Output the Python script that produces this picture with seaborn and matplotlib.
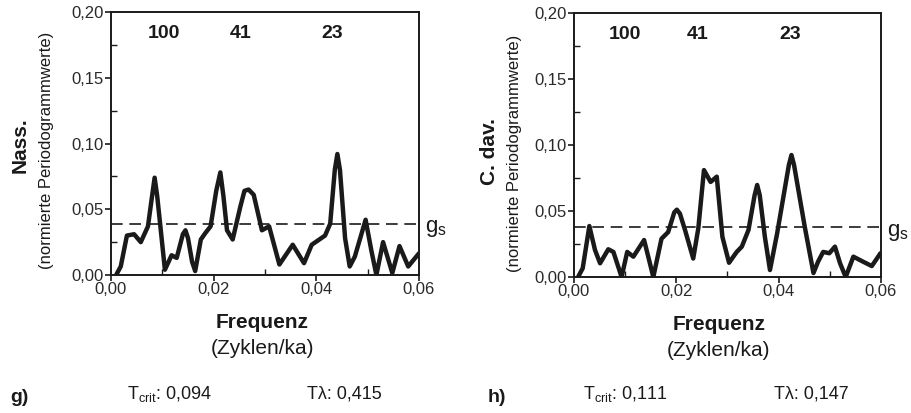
import matplotlib
matplotlib.use("Agg")
import matplotlib.pyplot as plt
import seaborn as sns
import pandas as pd
from matplotlib.ticker import FixedLocator, FuncFormatter, MultipleLocator

# ---------------- data ----------------
freq_nass = [0.0010, 0.0019, 0.0031, 0.0045, 0.0058, 0.0072, 0.0080, 0.0085, 0.0090,
             0.0097, 0.0105, 0.0118, 0.0128, 0.0140, 0.0145, 0.0150, 0.0158, 0.0164,
             0.0175, 0.0184, 0.0194, 0.0205, 0.0213, 0.0219, 0.0226, 0.0237, 0.0252,
             0.0260, 0.0268, 0.0278, 0.0294, 0.0308, 0.0328, 0.0354, 0.0376, 0.0391,
             0.0417, 0.0427, 0.0436, 0.0441, 0.0446, 0.0456, 0.0465, 0.0475, 0.0496,
             0.0507, 0.0517, 0.0530, 0.0548, 0.0562, 0.0579, 0.0600]
val_nass = [0.000, 0.0065, 0.030, 0.031, 0.025, 0.037, 0.060, 0.074, 0.060,
            0.034, 0.004, 0.015, 0.013, 0.031, 0.034, 0.028, 0.010, 0.003,
            0.027, 0.032, 0.037, 0.064, 0.078, 0.060, 0.034, 0.027, 0.052,
            0.064, 0.065, 0.061, 0.034, 0.037, 0.008, 0.023, 0.009, 0.023,
            0.030, 0.039, 0.080, 0.092, 0.080, 0.028, 0.0065, 0.014, 0.042,
            0.019, 0.000, 0.025, 0.0015, 0.022, 0.0065, 0.0165]

freq_cdav = [0.0008, 0.0017, 0.0030, 0.0041, 0.0051, 0.0067, 0.0077, 0.0093, 0.0104,
             0.0116, 0.0137, 0.0155, 0.0171, 0.0184, 0.0196, 0.0201, 0.0207, 0.0217,
             0.0233, 0.0243, 0.0254, 0.0267, 0.0279, 0.0290, 0.0303, 0.0318, 0.0328,
             0.0341, 0.0353, 0.0358, 0.0363, 0.0373, 0.0383, 0.0397, 0.0420, 0.0425,
             0.0430, 0.0451, 0.0468, 0.0477, 0.0487, 0.0499, 0.0510, 0.0520, 0.0531,
             0.0546, 0.0565, 0.0582, 0.0599]
val_cdav = [0.000, 0.0066, 0.0386, 0.0205, 0.0104, 0.021, 0.019, 0.000, 0.019,
            0.0154, 0.028, 0.000, 0.029, 0.034, 0.049, 0.051, 0.048, 0.0356,
            0.014, 0.037, 0.081, 0.072, 0.076, 0.0305, 0.0108, 0.019, 0.023,
            0.0356, 0.062, 0.0697, 0.062, 0.0305, 0.0053, 0.033, 0.085, 0.0924,
            0.085, 0.038, 0.003, 0.0116, 0.019, 0.018, 0.023, 0.0104, 0.000,
            0.0154, 0.0116, 0.0083, 0.018]

gs_levels = [0.039, 0.038]
species = ["Nass.", "C. dav."]
panel_tags = ["g)", "h)"]
tcrit_vals = ["0,094", "0,111"]
tlambda_vals = ["0,415", "0,147"]
period_labels = ["100", "41", "23"]
period_x = [[0.0103, 0.0252, 0.0431], [0.0100, 0.0242, 0.0422]]
xticks = [0.00, 0.02, 0.04, 0.06]
yticks = [0.00, 0.05, 0.10, 0.15, 0.20]

# ---------------- style ----------------
sns.set_style("ticks")
plt.rcParams["font.family"] = ["Liberation Sans", "DejaVu Sans"]
plt.rcParams["mathtext.fontset"] = "custom"
plt.rcParams["mathtext.rm"] = "Liberation Sans"

W, H = 912, 413
fig = plt.figure(figsize=(W / 100, H / 100), dpi=100)

def fx(px):
    return px / W

def fy(py):
    return 1 - py / H

rects = [(111, 12, 419, 275), (574, 13, 881, 277)]
data = [(freq_nass, val_nass), (freq_cdav, val_cdav)]

comma = FuncFormatter(lambda v, p: f"{v:.2f}".replace(".", ","))
ink = "#1a1a1a"

for i in range(2):
    x0, y0, x1, y1 = rects[i]
    ax = fig.add_axes([fx(x0), fy(y1), (x1 - x0) / W, (y1 - y0) / H])
    df = pd.DataFrame({"f": data[i][0], "p": data[i][1]})
    sns.lineplot(data=df, x="f", y="p", ax=ax, color=ink, linewidth=3.2,
                 sort=False, solid_joinstyle="round", solid_capstyle="round")
    ax.axhline(gs_levels[i], color=ink, linewidth=1.2, dashes=(7, 4))
    ax.set_xlim(0, 0.06)
    ax.set_ylim(0, 0.20)
    ax.xaxis.set_major_locator(FixedLocator(xticks))
    ax.yaxis.set_major_locator(FixedLocator(yticks))
    ax.xaxis.set_minor_locator(MultipleLocator(0.01))
    ax.yaxis.set_minor_locator(MultipleLocator(0.025))
    ax.xaxis.set_major_formatter(comma)
    ax.yaxis.set_major_formatter(comma)
    ax.tick_params(which="major", direction="out", length=4, width=1.2,
                   labelsize=12, colors=ink, labelcolor="#2a2a2a", pad=1)
    ax.tick_params(which="minor", direction="in", length=4, width=1.0, colors=ink)
    for s in ax.spines.values():
        s.set_visible(True)
        s.set_linewidth(1.4)
        s.set_color(ink)
    ax.set_xlabel("")
    ax.set_ylabel("")
    for lab, px in zip(period_labels, period_x[i]):
        ax.text(px, 0.184, lab, ha="center", va="center", fontsize=14,
                fontweight="bold", color=ink)
    ax.text(1.02, gs_levels[i] - 0.004, r"g$_\mathregular{s}$",
            transform=ax.get_yaxis_transform(),
            ha="left", va="center", fontsize=16, color=ink)

# y labels
fig.text(fx(20), fy(145), species[0], rotation=90, ha="center", va="center",
         fontsize=15, fontweight="bold", color=ink)
fig.text(fx(47), fy(150), "(normierte Periodogrammwerte)", rotation=90,
         ha="center", va="center", fontsize=12, color=ink)
fig.text(fx(490), fy(152), species[1], rotation=90, ha="center", va="center",
         fontsize=15, fontweight="bold", color=ink)
fig.text(fx(515), fy(153), "(normierte Periodogrammwerte)", rotation=90,
         ha="center", va="center", fontsize=12, color=ink)

# x labels
for cx, yy in [(262, 322), (719, 325)]:
    fig.text(fx(cx), fy(yy), "Frequenz", ha="center", va="center",
             fontsize=15, fontweight="bold", color=ink)
    fig.text(fx(cx), fy(yy + 26), "(Zyklen/ka)", ha="center", va="center",
             fontsize=15, color=ink)

# bottom annotations
bottom_y = 398
for tag, tx, tc, tl, txc, txl in [(panel_tags[0], 19, tcrit_vals[0], tlambda_vals[0], 127, 307),
                                   (panel_tags[1], 497, tcrit_vals[1], tlambda_vals[1], 583, 774)]:
    fig.text(fx(tx), fy(bottom_y), tag, ha="center", va="center", fontsize=14,
             fontweight="bold", color=ink)
    fig.text(fx(txc), fy(bottom_y - 4), r"T$_\mathregular{crit}$: " + tc, ha="left",
             va="center", fontsize=13, color=ink)
    fig.text(fx(txl), fy(bottom_y - 4), "T\u03bb: " + tl, ha="left", va="center",
             fontsize=13, color=ink)

fig.savefig("out.png", dpi=100)
